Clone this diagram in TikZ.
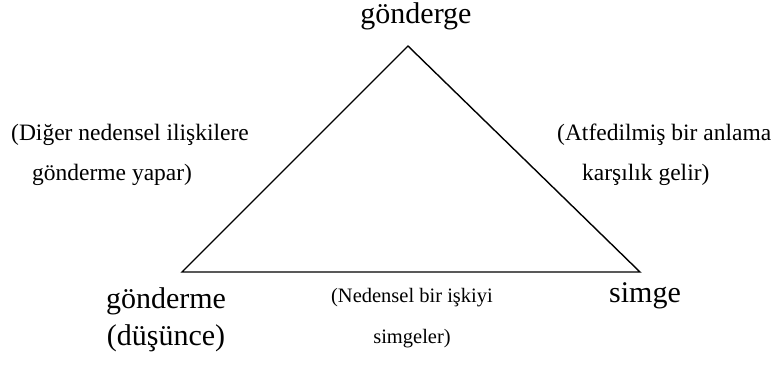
\documentclass[tikz,border=0pt]{standalone}
\usepackage{fontspec}
\setmainfont{Liberation Serif}
\usepackage{tikz}
\usetikzlibrary{positioning}

\begin{document}
\begin{tikzpicture}[x=1pt,y=-1pt]
\tikzset{edge/.style={line width=1.4pt,draw=black,line join=miter},
term/.style={font=\fontsize{30}{37}\selectfont,inner sep=0pt,align=center},
note/.style={font=\fontsize{23.5}{40}\selectfont,inner sep=0pt,align=left}}
\useasboundingbox (0,0) rectangle (772,365);
% corners of the triangle
\coordinate (apex) at (408,46);
\coordinate (thought) at (182,272);
\coordinate (symbol) at (640,272);
\draw[edge] (apex)--(thought)--(symbol)--cycle;
% terms
\node[term] (referent) at (416,16) {gönderge};
\node[term] (reference) at (166,320) {gönderme\\(düşünce)};
\node[term] (simge) at (645,296) {simge};
% relations
\node[note,anchor=west] (leftnote) at (11,155) {(Diğer nedensel ilişkilere\\\hspace*{21pt}gönderme yapar)};
\node[note,anchor=west] (rightnote) at (557,155) {(Atfedilmiş bir anlama\\\hspace*{25pt}karşılık gelir)};
\node[note,align=center,font=\fontsize{20.5}{41}\selectfont] (basenote) at (412,318) {(Nedensel bir işkiyi\\simgeler)};
\end{tikzpicture}
\end{document}
